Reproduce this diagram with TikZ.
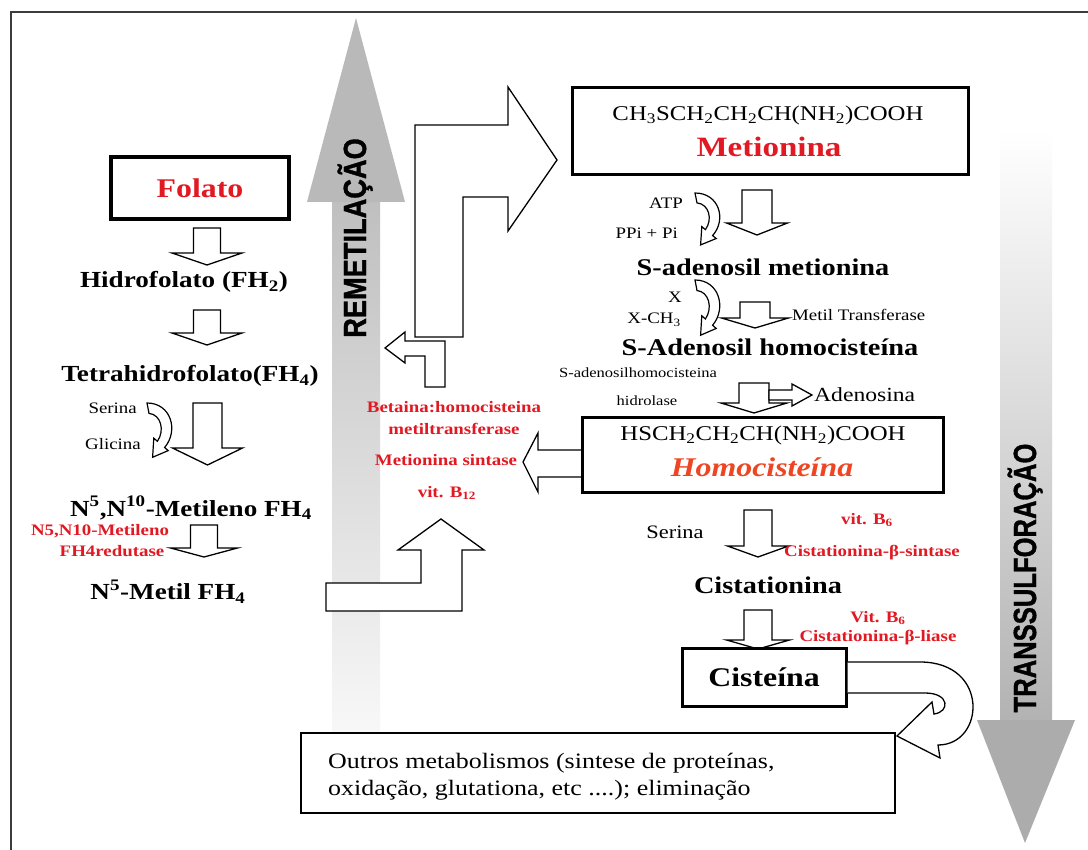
\documentclass[tikz,border=0pt]{standalone}
\usepackage{fontspec}
\setmainfont{Liberation Serif}
\newfontfamily\labelsans{Liberation Sans}[BoldFeatures={FakeBold=1.2}]
\definecolor{myred}{RGB}{225,25,35}
\definecolor{homoc}{RGB}{238,70,35}
\definecolor{framegray}{RGB}{60,60,60}
\newcommand\fs[1]{\fontsize{#1}{#1}\selectfont}
\newcommand\sx[1]{\scalebox{1.18}[1]{#1}}
\newcommand\sbs[1]{\textsubscript{#1}}
\newcommand\sps[1]{\textsuperscript{#1}}
\tikzset{
  blk/.style={draw=black, line width=1.3pt, fill=white, line join=miter},
  box/.style={draw=black, line width=3pt, fill=white, inner sep=0pt},
  lbl/.style={inner sep=0pt},
  boldlbl/.style={lbl, font=\bfseries\fs{23}},
  redlbl/.style={lbl, font=\bfseries\fs{16}, text=myred},
  smalllbl/.style={lbl, font=\fs{16}},
}
% down block arrow: cx, top, shaft half width, head half width, head base, tip
\newcommand\dnarrow[6]{%
  \draw[blk] ({#1-#3},#2) -- ({#1+#3},#2) -- ({#1+#3},#5) -- ({#1+#4},#5) -- (#1,#6)
    -- ({#1-#4},#5) -- ({#1-#3},#5) -- cycle;}
% curved block arrow: x, y of tail, vertical scale
\newcommand\curvarrow[3]{%
  \begin{scope}[shift={(#1,#2)}, yscale=#3]
    \draw[blk, line width=1.2pt] (0,0) .. controls (24,0) and (32,24) .. (17.6,38.7) -- (21.2,41.4)
      -- (5.6,47.2) -- (6.8,30.6) -- (10.4,33.3) .. controls (18,24) and (14,10) .. (2,9) -- cycle;
  \end{scope}}
\begin{document}
\begin{tikzpicture}[x=1pt,y=-1pt]
\useasboundingbox (0,0) rectangle (1088,850);
\fill[white] (0,0) rectangle (1088,850);
% frame
\draw[line width=2.5pt, framegray] (11,852) -- (11,12) -- (1090,12);

% ---- gray process arrows
\shade[top color=gray!50, bottom color=white] (332,201) rectangle (380,800);
\fill[gray!55] (356,18) -- (405,202) -- (307,202) -- cycle;
\node[rotate=90, anchor=base, inner sep=0pt] (remet) at (366,238)
  {\scalebox{0.85}[1]{\labelsans\bfseries\fs{32}REMETILAÇÃO}};

\shade[top color=white, bottom color=gray!60] (1000,130) rectangle (1052,721);
\fill[gray!65] (977,720) -- (1075,720) -- (1025,843) -- cycle;
\node[rotate=90, anchor=base, inner sep=0pt] (transs) at (1036,578)
  {\scalebox{0.8}[1]{\labelsans\bfseries\fs{32}TRANSSULFORAÇÃO}};

% ---- left column (folate cycle)
\node[box, line width=3.5pt, minimum width=178pt, minimum height=62pt] (folato) at (200,188)
  {\sx{\fs{27}\bfseries\color{myred}Folato}};
\dnarrow{207}{228}{13.5}{35}{253}{265}
\node[boldlbl] (fh2) at (184,282) {\sx{Hidrofolato (FH\sbs{2})}};
\dnarrow{207}{310}{13.5}{35}{333}{345}
\node[boldlbl] (fh4) at (190,376) {\sx{Tetrahidrofolato(FH\sbs{4})}};
\curvarrow{147}{403}{1.15}
\node[smalllbl, anchor=east] (ser1) at (137,408) {\sx{Serina}};
\node[smalllbl, anchor=east] (gli) at (141,444) {\sx{Glicina}};
\dnarrow{207.5}{403}{14.5}{35}{448}{465}
\node[boldlbl] (metileno) at (191,508) {\sx{N\sps{5},N\sps{10}-Metileno FH\sbs{4}}};
\node[redlbl] (red1) at (100,531) {\sx{N5,N10-Metileno}};
\node[redlbl] (red2) at (112,551) {\sx{FH4redutase}};
\dnarrow{204}{525}{13.5}{33.5}{548}{557}
\node[boldlbl] (metil) at (168,592) {\sx{N\sps{5}-Metil FH\sbs{4}}};

% ---- remethylation connectors (block arrows)
\draw[blk] (326,611) -- (326,583) -- (421,583) -- (421,550) -- (398,550) -- (441,519)
  -- (484,550) -- (462,550) -- (462,611) -- cycle;
\draw[blk] (415,337) -- (415,125) -- (508,125) -- (508,87) -- (557,160) -- (508,231)
  -- (508,197) -- (463,197) -- (463,337) -- cycle;
\draw[blk] (385,348) -- (405,332) -- (405,341) -- (445,341) -- (445,387) -- (425,387)
  -- (425,356) -- (405,356) -- (405,363) -- cycle;
\draw[blk] (523,462) -- (538,433) -- (538,450) -- (584,450) -- (584,477) -- (538,477)
  -- (538,492) -- cycle;

\node[redlbl] (bhmt1) at (454,407) {\sx{Betaina:homocisteina}};
\node[redlbl] (bhmt2) at (454,429) {\sx{metiltransferase}};
\node[redlbl] (ms) at (446,460) {\sx{Metionina sintase}};
\node[redlbl] (b12) at (447,493) {\sx{vit. B\sbs{12}}};

% ---- right column
\node[box, minimum width=396pt, minimum height=87pt] (metbox) at (770,131.5) {};
\node[lbl, font=\fs{21}] (metform) at (768,115) {\sx{CH\sbs{3}SCH\sbs{2}CH\sbs{2}CH(NH\sbs{2})COOH}};
\node[lbl, font=\bfseries\fs{28}, text=myred] (metname) at (769,147) {\sx{Metionina}};

\curvarrow{695}{193}{1.1}
\node[smalllbl, anchor=east] (atp) at (683,203) {\sx{ATP}};
\node[smalllbl, anchor=east] (ppi) at (678,233) {\sx{PPi + Pi}};
\dnarrow{757}{190}{15}{30.5}{223}{235}
\node[lbl, font=\bfseries\fs{24}] (sam) at (763,267) {\sx{S-adenosil metionina}};

\curvarrow{695}{280}{1.17}
\node[smalllbl] (x) at (675,297) {\sx{X}};
\node[smalllbl, anchor=east] (xch3) at (681,320) {\sx{X-CH\sbs{3}}};
\dnarrow{755}{302}{15}{33.5}{318}{328}
\node[smalllbl, anchor=west] (mt) at (792,315) {\sx{Metil Transferase}};
\node[lbl, font=\bfseries\fs{24}] (sah) at (770,347) {\sx{S-Adenosil homocisteína}};

\node[lbl, font=\fs{14}] (sahh1) at (638,373) {\sx{S-adenosilhomocisteina}};
\node[lbl, font=\fs{14}] (sahh2) at (647,401) {\sx{hidrolase}};
\dnarrow{754}{383}{15}{33}{403}{413}
\draw[blk] (769,390) -- (792,390) -- (792,384) -- (812,395) -- (792,406) -- (792,400)
  -- (769,400) -- cycle;
\node[lbl, font=\fs{20}, anchor=west] (adenosina) at (814,395) {\sx{Adenosina}};

\node[box, minimum width=361pt, minimum height=74pt] (homobox) at (762.5,455) {};
\node[lbl, font=\fs{21}] (homoform) at (763,435) {\sx{HSCH\sbs{2}CH\sbs{2}CH(NH\sbs{2})COOH}};
\node[lbl, font=\bfseries\itshape\fs{27}, text=homoc] (homoname) at (762,467) {\sx{Homocisteína}};

\node[lbl, font=\fs{19}] (ser2) at (675,532) {\sx{Serina}};
\dnarrow{758}{510}{14}{30.5}{546}{557}
\node[redlbl] (b6a) at (867,520) {\sx{vit. B\sbs{6}}};
\node[redlbl] (cbs) at (872,553) {\sx{Cistationina-β-sintase}};
\node[lbl, font=\bfseries\fs{24}] (cist) at (768,585) {\sx{Cistationina}};
\dnarrow{758}{610}{14}{31.5}{640}{649}
\node[redlbl] (b6b) at (878,618) {\sx{Vit. B\sbs{6}}};
\node[redlbl] (cbl) at (878,638) {\sx{Cistationina-β-liase}};

\node[box, minimum width=164pt, minimum height=58pt] (cisbox) at (764,677)
  {\sx{\bfseries\fs{27}Cisteína}};

% U-turn arrow from Cisteína to the other pathways
\draw[blk] (cisbox.east |- 0,662) -- (920,662) .. controls (990,662) and (985,745) .. (938,745)
  -- (940,758) -- (897,736) -- (932,702) -- (934,714) .. controls (950,712) and (950,693) .. (925,693)
  -- (cisbox.east |- 0,693);

\node[box, line width=2.5pt, minimum width=594pt, minimum height=80pt] (outros) at (598,773) {};
\node[lbl, font=\fs{22}, anchor=west] (outros1) at (328,763)
  {\sx{Outros metabolismos (sintese de proteínas,}};
\node[lbl, font=\fs{22}, anchor=west] (outros2) at (328,790)
  {\sx{oxidação, glutationa, etc ....); eliminação}};
\end{tikzpicture}
\end{document}
